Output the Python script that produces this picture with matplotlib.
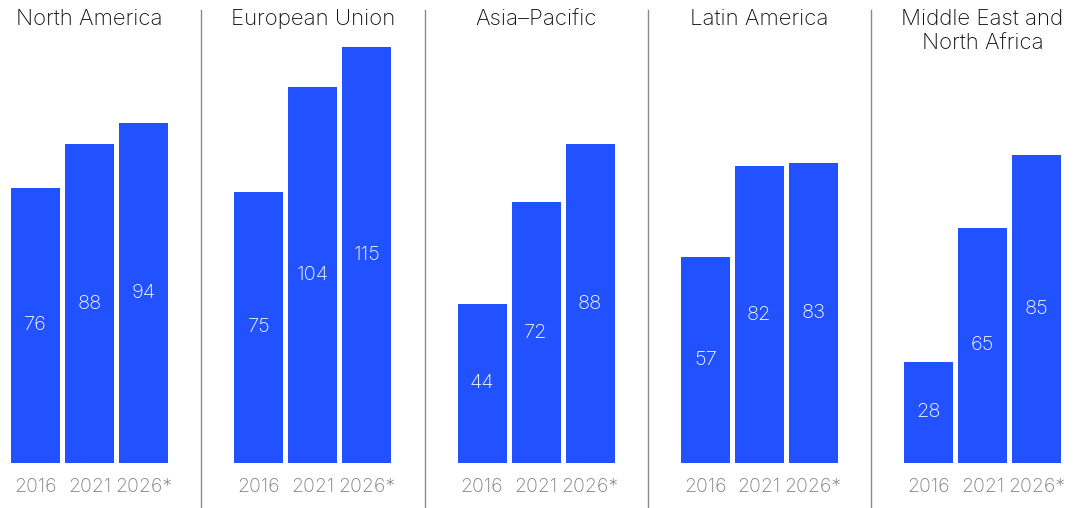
import matplotlib
matplotlib.use("Agg")
import matplotlib.pyplot as plt
from matplotlib.lines import Line2D

# data
regions = ["North America", "European Union", "Asia\u2013Pacific",
           "Latin America", "Middle East and\nNorth Africa"]
years = ["2016", "2021", "2026*"]
north_america = [76, 88, 94]
european_union = [75, 104, 115]
asia_pacific = [44, 72, 88]
latin_america = [57, 82, 83]
mena = [28, 65, 85]
series = [north_america, european_union, asia_pacific, latin_america, mena]

BLUE = "#2251FF"
plt.rcParams["font.family"] = ["Inter", "DejaVu Sans"]
plt.rcParams["font.weight"] = "light"

W, H = 1077, 508
fig = plt.figure(figsize=(W / 100, H / 100), dpi=100)

bar_w = 49 / 54
step = 223.25
for i, (name, vals) in enumerate(zip(regions, series)):
    left = 11 + step * i
    ax = fig.add_axes([left / W, 45 / H, 157 / W, 434 / H])
    ax.bar(range(3), vals, width=bar_w, color=BLUE)
    ax.set_xlim(-bar_w / 2, 2 + bar_w / 2)
    ax.set_ylim(0, 434 / 3.62)
    for x, v in enumerate(vals):
        ax.text(x, v / 2, str(v), ha="center", va="center",
                color="white", fontsize=14.5)
    ax.set_xticks(range(3))
    ax.set_xticklabels(years, fontsize=14, color="#808080")
    ax.tick_params(length=0, pad=11)
    ax.set_yticks([])
    for s in ax.spines.values():
        s.set_visible(False)
    fig.text((left + 78.5) / W, 1 - 9 / H, name, ha="center", va="top",
             fontsize=16, color="#111111", linespacing=1.3)
    if i > 0:
        xd = (left - 33) / W
        fig.add_artist(Line2D([xd, xd], [0, 1 - 10 / H],
                              color="#8a8a8a", lw=1))

fig.savefig("out.png", dpi=100)
